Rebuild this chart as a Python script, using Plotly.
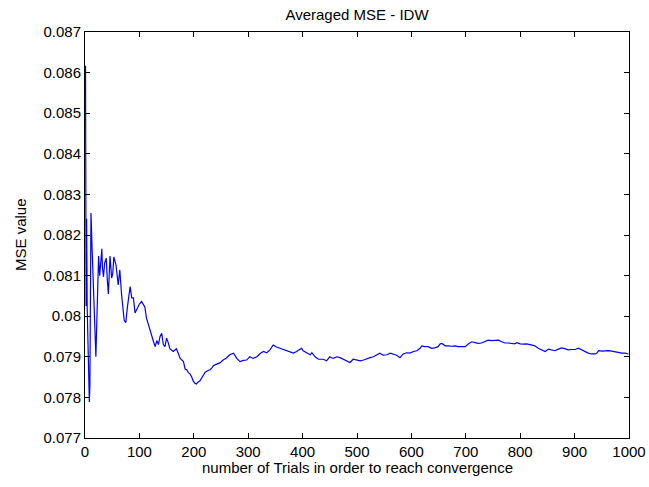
import plotly.graph_objects as go

trials = [1, 2, 3, 4, 6, 8, 9, 11, 13, 16,
          20, 23, 25, 27, 29, 31, 32, 34, 36, 39,
          41, 43, 46, 49, 51, 53, 57, 61, 64, 67,
          72, 75, 78, 80, 83, 86, 89, 92, 96, 100,
          104, 107, 110, 113, 116, 119, 123, 126, 129, 132,
          135, 138, 141, 144, 147, 150, 153, 156, 162, 168,
          171, 175, 181, 184, 187, 190, 193, 196, 199, 202,
          205, 208, 211, 215, 218, 221, 227, 230, 233, 236,
          242, 248, 254, 260, 266, 273, 279, 285, 291, 297,
          303, 309, 316, 322, 328, 334, 340, 346, 352, 358,
          365, 371, 377, 383, 389, 395, 398, 401, 408, 414,
          417, 423, 429, 438, 444, 450, 456, 463, 469, 475,
          481, 487, 493, 499, 506, 512, 518, 524, 530, 536,
          542, 548, 555, 561, 567, 573, 579, 585, 591, 597,
          604, 610, 616, 619, 625, 631, 637, 643, 649, 653,
          656, 662, 668, 674, 680, 686, 692, 699, 705, 711,
          717, 723, 729, 735, 741, 748, 754, 760, 766, 772,
          778, 784, 790, 794, 800, 806, 812, 818, 827, 833,
          840, 846, 852, 858, 864, 870, 876, 882, 888, 895,
          901, 907, 913, 919, 925, 931, 938, 941, 944, 950,
          956, 962, 968, 974, 980, 987, 993, 999]

mse = [0.08617, 0.08025, 0.08240, 0.08020, 0.07900, 0.07789, 0.07830, 0.08254, 0.08168, 0.08050,
       0.07900, 0.08050, 0.08148, 0.08100, 0.08140, 0.08166, 0.08120, 0.08097, 0.08130, 0.08143,
       0.08090, 0.08055, 0.08148, 0.08094, 0.08105, 0.08146, 0.08126, 0.08077, 0.08114, 0.08057,
       0.07990, 0.07984, 0.08023, 0.08040, 0.08073, 0.08045, 0.08045, 0.08008, 0.08020, 0.08030,
       0.08036, 0.08030, 0.08023, 0.07995, 0.07980, 0.07966, 0.07950, 0.07937, 0.07925, 0.07940,
       0.07930, 0.07950, 0.07958, 0.07930, 0.07925, 0.07946, 0.07935, 0.07920, 0.07913, 0.07920,
       0.07910, 0.07896, 0.07888, 0.07870, 0.07868, 0.07861, 0.07858, 0.07851, 0.07840, 0.07835,
       0.07833, 0.07838, 0.07840, 0.07850, 0.07858, 0.07862, 0.07867, 0.07868, 0.07872, 0.07878,
       0.07882, 0.07885, 0.07892, 0.07897, 0.07905, 0.07909, 0.07896, 0.07888, 0.07891, 0.07892,
       0.07900, 0.07896, 0.07900, 0.07908, 0.07913, 0.07910, 0.07917, 0.07929, 0.07924, 0.07921,
       0.07918, 0.07915, 0.07913, 0.07909, 0.07913, 0.07918, 0.07921, 0.07915, 0.07909, 0.07905,
       0.07910, 0.07900, 0.07894, 0.07894, 0.07890, 0.07900, 0.07896, 0.07900, 0.07898, 0.07894,
       0.07890, 0.07886, 0.07894, 0.07892, 0.07890, 0.07892, 0.07896, 0.07898, 0.07900, 0.07904,
       0.07909, 0.07904, 0.07905, 0.07909, 0.07907, 0.07904, 0.07898, 0.07907, 0.07910, 0.07909,
       0.07913, 0.07915, 0.07921, 0.07927, 0.07925, 0.07925, 0.07921, 0.07922, 0.07925, 0.07932,
       0.07933, 0.07927, 0.07927, 0.07926, 0.07927, 0.07925, 0.07925, 0.07925, 0.07932, 0.07937,
       0.07935, 0.07933, 0.07934, 0.07937, 0.07941, 0.07940, 0.07941, 0.07941, 0.07937, 0.07934,
       0.07934, 0.07933, 0.07932, 0.07935, 0.07932, 0.07931, 0.07932, 0.07930, 0.07927, 0.07921,
       0.07917, 0.07913, 0.07919, 0.07917, 0.07915, 0.07919, 0.07922, 0.07920, 0.07917, 0.07918,
       0.07918, 0.07921, 0.07917, 0.07911, 0.07909, 0.07907, 0.07907, 0.07909, 0.07915, 0.07914,
       0.07915, 0.07915, 0.07914, 0.07913, 0.07911, 0.07909, 0.07909, 0.07907]

x_ticks = [0, 100, 200, 300, 400, 500, 600, 700, 800, 900, 1000]
y_ticks = [0.077, 0.078, 0.079, 0.080, 0.081, 0.082, 0.083, 0.084, 0.085, 0.086, 0.087]
y_tick_labels = ["0.077", "0.078", "0.079", "0.08", "0.081", "0.082", "0.083",
                 "0.084", "0.085", "0.086", "0.087"]

FONT = "Liberation Sans, Arial, sans-serif"

fig = go.Figure()
fig.add_trace(go.Scatter(x=trials, y=mse, mode="lines",
                         line=dict(color="#0000FF", width=1.2),
                         showlegend=False, hoverinfo="skip"))

axis_common = dict(showline=True, linecolor="black", linewidth=1, mirror="allticks",
                   ticks="inside", ticklen=5, tickcolor="black", tickwidth=1,
                   showgrid=False, zeroline=False, automargin=False,
                   tickfont=dict(family=FONT, size=15, color="black"))

fig.update_layout(
    width=649, height=487,
    margin=dict(l=85, r=20, t=32, b=49, autoexpand=False),
    paper_bgcolor="white", plot_bgcolor="white",
    font=dict(family=FONT, size=15, color="black"),
    title=dict(text="Averaged MSE - IDW", x=0.5, xref="paper", xanchor="center",
               y=1 - 15 / 487, yref="container", yanchor="middle",
               font=dict(family=FONT, size=15, color="black")),
    xaxis=dict(range=[0, 1000], tickvals=x_ticks, **axis_common),
    yaxis=dict(range=[0.077, 0.087], tickvals=y_ticks, ticktext=y_tick_labels,
               **axis_common),
    annotations=[
        dict(text="number of Trials in order to reach convergence", xref="paper", yref="paper",
             x=0.5, y=-29 / 406, xanchor="center", yanchor="middle", showarrow=False,
             font=dict(family=FONT, size=15, color="black")),
        dict(text="MSE value", xref="paper", yref="paper",
             x=-65 / 544, y=0.5, xanchor="center", yanchor="middle", textangle=-90,
             showarrow=False, font=dict(family=FONT, size=15, color="black")),
    ],
)

fig.write_html("out.html")
